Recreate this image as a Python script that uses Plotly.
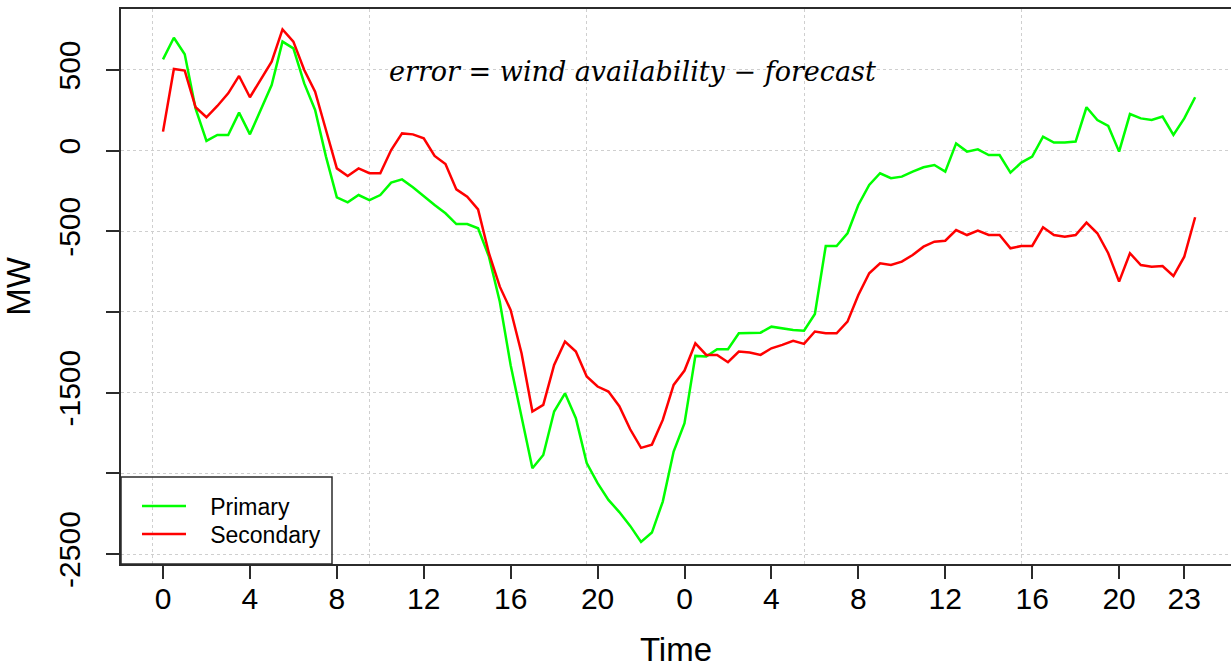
import plotly.graph_objects as go

# Time axis: half-hourly samples over two days (hours since start)
hours = [0.0, 0.5, 1.0, 1.5, 2.0, 2.5, 3.0, 3.5, 4.0, 4.5, 5.0, 5.5,
         6.0, 6.5, 7.0, 7.5, 8.0, 8.5, 9.0, 9.5, 10.0, 10.5, 11.0, 11.5,
         12.0, 12.5, 13.0, 13.5, 14.0, 14.5, 15.0, 15.5, 16.0, 16.5, 17.0, 17.5,
         18.0, 18.5, 19.0, 19.5, 20.0, 20.5, 21.0, 21.5, 22.0, 22.5, 23.0, 23.5,
         24.0, 24.5, 25.0, 25.5, 26.0, 26.5, 27.0, 27.5, 28.0, 28.5, 29.0, 29.5,
         30.0, 30.5, 31.0, 31.5, 32.0, 32.5, 33.0, 33.5, 34.0, 34.5, 35.0, 35.5,
         36.0, 36.5, 37.0, 37.5, 38.0, 38.5, 39.0, 39.5, 40.0, 40.5, 41.0, 41.5,
         42.0, 42.5, 43.0, 43.5, 44.0, 44.5, 45.0, 45.5, 46.0, 46.5, 47.0, 47.5]

primary = [566, 700, 597, 260, 60, 97, 97, 236, 101, 252, 407, 676,
           634, 417, 252, -37, -289, -320, -275, -306, -275, -198, -178, -227,
           -285, -337, -388, -455, -455, -481, -657, -936, -1330, -1648, -1968, -1886,
           -1617, -1504, -1658, -1937, -2061, -2165, -2240, -2326, -2425, -2367, -2175, -1865,
           -1689, -1272, -1276, -1231, -1231, -1132, -1128, -1128, -1091, -1101, -1112, -1116,
           -1012, -591, -591, -512, -337, -213, -140, -171, -161, -130, -103, -89,
           -130, 45, -6, 8, -27, -27, -136, -74, -37, 87, 50, 50,
           56, 269, 190, 153, -6, 227, 200, 190, 211, 97, 200, 331]

secondary = [118, 506, 496, 269, 207, 277, 355, 463, 331, 438, 552, 752,
             676, 500, 366, 128, -110, -157, -110, -140, -140, 4, 107, 101,
             76, -33, -83, -240, -285, -364, -636, -843, -988, -1256, -1617, -1576,
             -1328, -1183, -1245, -1400, -1462, -1493, -1584, -1727, -1842, -1822, -1669, -1452,
             -1363, -1194, -1266, -1266, -1311, -1245, -1251, -1266, -1225, -1204, -1179, -1198,
             -1121, -1132, -1132, -1060, -895, -760, -698, -709, -688, -647, -595, -564,
             -558, -492, -523, -496, -523, -523, -605, -591, -591, -475, -523, -533,
             -523, -446, -512, -636, -812, -636, -709, -719, -715, -777, -657, -413]

x_tick_vals = [0, 4, 8, 12, 16, 20, 24, 28, 32, 36, 40, 44, 47]
x_tick_text = ["0", "4", "8", "12", "16", "20", "0", "4", "8", "12", "16", "20", "23"]
y_tick_vals = [-2500, -2000, -1500, -1000, -500, 0, 500]
y_tick_text = ["-2500", "", "-1500", "", "-500", "0", "500"]
x_grid_vals = [-0.5, 9.5, 19.5, 29.5, 39.5]

X_RANGE = [-1.933, 49.15]
Y_RANGE = [-2562, 878]
AXIS_COL = "#2b2b2b"
GRID_COL = "#cfcfcf"
FONT = "Liberation Sans, Arial, sans-serif"
PAD = "\u00a0\u00a0\u00a0"

fig = go.Figure()
fig.add_trace(go.Scatter(x=hours, y=primary, mode="lines", name=PAD + "Primary",
                         legend="legend",
                         line=dict(color="#00FF00", width=2.5)))
fig.add_trace(go.Scatter(x=hours, y=secondary, mode="lines", name=PAD + "Secondary",
                         legend="legend2",
                         line=dict(color="#FF0000", width=2.5)))
# empty helper trace so the grid-only overlay axis is rendered
fig.add_trace(go.Scatter(x=[], y=[], xaxis="x2", yaxis="y", mode="lines",
                         showlegend=False, hoverinfo="skip"))

legend_common = dict(xanchor="left", yanchor="middle", bgcolor="rgba(0,0,0,0)",
                     borderwidth=0, font=dict(size=23), itemwidth=44, tracegroupgap=0)

fig.update_layout(
    width=1231, height=668, autosize=False,
    margin=dict(l=121, r=0, t=9, b=104, pad=0),
    paper_bgcolor="white", plot_bgcolor="white",
    font=dict(family=FONT, color="black"),
    xaxis=dict(range=X_RANGE, tickmode="array", tickvals=x_tick_vals, ticktext=x_tick_text,
               ticks="outside", ticklen=13, tickwidth=1.5, tickcolor=AXIS_COL,
               showline=True, linecolor=AXIS_COL, linewidth=1.5, mirror=True,
               showgrid=False, zeroline=False, tickfont=dict(size=30),
               ticklabelstandoff=-6,
               title=dict(text="Time", font=dict(size=33), standoff=30)),
    xaxis2=dict(range=X_RANGE, overlaying="x", anchor="y", side="bottom", tickmode="array",
                tickvals=x_grid_vals, showticklabels=False, ticks="",
                showline=False, zeroline=False, showgrid=True,
                gridcolor=GRID_COL, griddash="dot", gridwidth=1),
    yaxis=dict(range=Y_RANGE, tickmode="array", tickvals=y_tick_vals, ticktext=y_tick_text,
               ticks="outside", ticklen=13, tickwidth=1.5, tickcolor=AXIS_COL,
               showline=True, linecolor=AXIS_COL, linewidth=1.5, mirror=False,
               showgrid=True, gridcolor=GRID_COL, griddash="dot", gridwidth=1,
               zeroline=False, tickfont=dict(size=30), tickangle=-90,
               ticklabelstandoff=14,
               title=dict(text="MW", font=dict(size=33), standoff=13)),
    legend=dict(x=(137 - 121) / 1110, y=(564 - 506) / 555, **legend_common),
    legend2=dict(x=(137 - 121) / 1110, y=(564 - 534) / 555, **legend_common),
    shapes=[dict(type="rect", xref="paper", yref="paper", x0=0, x1=(332 - 121) / 1110,
                 y0=0, y1=(564 - 477) / 555, line=dict(color=AXIS_COL, width=1.5),
                 fillcolor="rgba(0,0,0,0)", layer="above")],
    annotations=[dict(xref="paper", yref="paper", x=(632 - 121) / 1110, y=(564 - 72) / 555,
                      xanchor="center", yanchor="middle", showarrow=False,
                      text="<i>error</i> = <i>wind availability</i> \u2212 <i>forecast</i>",
                      font=dict(family="DejaVu Serif, serif", size=27, color="black"))],
    showlegend=True,
)

fig.write_html("out.html")
